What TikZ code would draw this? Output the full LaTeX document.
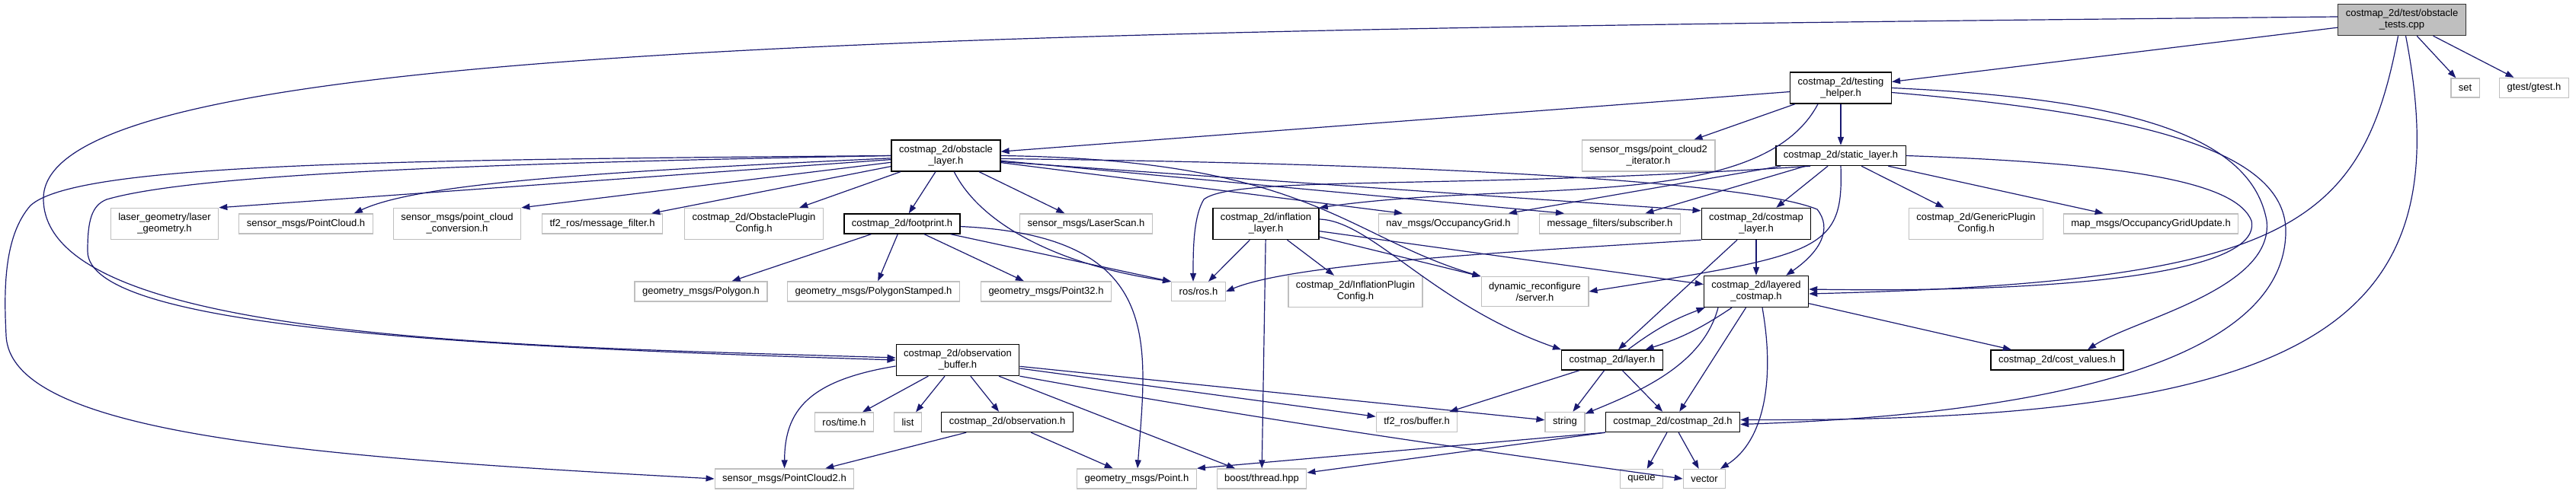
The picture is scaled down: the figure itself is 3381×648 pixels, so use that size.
\documentclass[tikz,border=0pt]{standalone}
\usepackage{fontspec}
\setmainfont{Liberation Sans}
\usetikzlibrary{arrows.meta}
\definecolor{navyedge}{HTML}{191970}
\definecolor{extgray}{HTML}{BFBFBF}

\begin{document}
\begin{tikzpicture}[x=1pt, y=-1pt,
 incl/.style={rectangle, fill=white, line width=1.3pt, align=center,
 inner xsep=10pt, inner ysep=7pt, minimum height=25pt,
 font=\fontsize{13}{15}\selectfont},
 hdr/.style={incl, draw=black},
 ext/.style={incl, draw=extgray},
 top/.style={incl, draw=black!80, fill=extgray},
 a/.style={-{Triangle[length=11pt,width=8pt]}, draw=navyedge, line width=1.2pt},
]
 \useasboundingbox (0,0) rectangle (3381,648);

 \node[top] (root) at (3152.5,26) {costmap\_2d/test/obstacle\\\_tests.cpp};

 \node[hdr] (th) at (2416,115.5) {costmap\_2d/testing\\\_helper.h};
 \node[ext] (setn) at (3235.5,115.5) {set};
 \node[ext] (gtest) at (3326,115.5) {gtest/gtest.h};

 \node[hdr] (ol) at (1241.5,204.5) {costmap\_2d/obstacle\\\_layer.h};
 \node[ext] (pci) at (2163.5,204.5) {sensor\_msgs/point\_cloud2\\\_iterator.h};
 \node[hdr] (sl) at (2416,204.5) {costmap\_2d/static\_layer.h};

 \node[ext] (lg) at (216,294) {laser\_geometry/laser\\\_geometry.h};
 \node[ext] (pcl) at (401.5,294) {sensor\_msgs/PointCloud.h};
 \node[ext] (pcc) at (600,294) {sensor\_msgs/point\_cloud\\\_conversion.h};
 \node[ext] (mf) at (790.5,294) {tf2\_ros/message\_filter.h};
 \node[ext] (opc) at (989.5,294) {costmap\_2d/ObstaclePlugin\\Config.h};
 \node[hdr] (fp) at (1184,294) {costmap\_2d/footprint.h};
 \node[ext] (ls) at (1425.5,294) {sensor\_msgs/LaserScan.h};
 \node[hdr] (il) at (1661.5,294) {costmap\_2d/inflation\\\_layer.h};
 \node[ext] (og) at (1901,294) {nav\_msgs/OccupancyGrid.h};
 \node[ext] (sub) at (2113,294) {message\_filters/subscriber.h};
 \node[hdr] (cl) at (2305,294) {costmap\_2d/costmap\\\_layer.h};
 \node[ext] (gpc) at (2593.5,294) {costmap\_2d/GenericPlugin\\Config.h};
 \node[ext] (ogu) at (2823,294) {map\_msgs/OccupancyGridUpdate.h};

 \node[ext] (poly) at (920,383) {geometry\_msgs/Polygon.h};
 \node[ext] (polys) at (1146.5,383) {geometry\_msgs/PolygonStamped.h};
 \node[ext] (p32) at (1373,383) {geometry\_msgs/Point32.h};
 \node[ext] (ros) at (1573,383) {ros/ros.h};
 \node[ext] (ipc) at (1779,383) {costmap\_2d/InflationPlugin\\Config.h};
 \node[ext] (dr) at (2014.5,383) {dynamic\_reconfigure\\/server.h};
 \node[hdr] (lc) at (2305,383) {costmap\_2d/layered\\\_costmap.h};

 \node[hdr] (ob) at (1257,473) {costmap\_2d/observation\\\_buffer.h};
 \node[hdr] (ly) at (2116,473) {costmap\_2d/layer.h};
 \node[hdr] (cv) at (2700,473) {costmap\_2d/cost\_values.h};

 \node[ext] (rt) at (1108,554.5) {ros/time.h};
 \node[ext] (lst) at (1191.5,554.5) {list};
 \node[hdr] (obs) at (1322,554.5) {costmap\_2d/observation.h};
 \node[ext] (tfb) at (1859.5,554.5) {tf2\_ros/buffer.h};
 \node[ext] (str) at (2054,554.5) {string};
 \node[hdr] (cm) at (2195.5,554.5) {costmap\_2d/costmap\_2d.h};

 \node[ext] (pc2) at (1029.5,629) {sensor\_msgs/PointCloud2.h};
 \node[ext] (pt) at (1492,629) {geometry\_msgs/Point.h};
 \node[ext] (bt) at (1656,629) {boost/thread.hpp};
 \node[ext] (que) at (2154.5,629) {queue};
 \node[ext] (vec) at (2237,629) {vector};

 % obstacle_tests.cpp
 \draw[a] (root) -- (th);
 \draw[a] (root) -- (setn);
 \draw[a] (root) -- (gtest);
 \draw[a] ([xshift=-5pt]root.south) .. controls (3100,300) and (3000,370) .. ([yshift=-3pt]lc.east);
 \draw[a] ([xshift=5pt]root.south) .. controls (3230,420) and (3050,555) .. ([yshift=3pt]cm.east);
 \draw[a] ([yshift=4pt]root.west) .. controls (1200,40) and (60,60) .. (57,260)
   .. controls (55,450) and (700,455) .. ([yshift=3pt]ob.west);

 % testing_helper.h
 \draw[a] (th) -- (ol);
 \draw[a] (th) -- (pci);
 \draw[a] (th) -- (sl);
 \draw[a] ([xshift=-30pt]th.south) .. controls (2310,280) and (2000,235) .. (il.north east);
 \draw[a] (th.east) .. controls (2800,130) and (2955,180) .. (2975,290)
   .. controls (2985,380) and (2800,420) .. ([xshift=40pt]cv.north);
 \draw[a] ([yshift=-6pt]th.east) .. controls (2820,150) and (2995,200) .. (3000,300)
   .. controls (3005,520) and (2500,550) .. ([yshift=-3pt]cm.east);

 % static_layer.h
 \draw[a] (sl) -- (cl);
 \draw[a] (sl) -- (gpc);
 \draw[a] (sl) -- (ogu);
 \draw[a] (sl) -- (og);
 \draw[a] (sl) -- (sub);
 \draw[a] ([xshift=-40pt]sl.south) .. controls (1900,250) and (1620,230) .. (1580,262)
   .. controls (1566,285) and (1566,330) .. ([xshift=-7pt]ros.north);
 \draw[a] (sl.south) .. controls (2420,330) and (2390,335) .. (dr.east);
 \draw[a] (sl.east) .. controls (2800,215) and (2935,240) .. (2955,290)
   .. controls (2970,360) and (2700,385) .. ([yshift=3pt]lc.east);

 % obstacle_layer.h
 \draw[a] (ol) -- (lg.north east);
 \draw[a] (ol) .. controls (800,225) and (550,240) .. ([xshift=-25pt]pcl.north east);
 \draw[a] (ol) -- (pcc.north east);
 \draw[a] (ol) -- ([xshift=-15pt]mf.north east);
 \draw[a] (ol) -- (opc);
 \draw[a] (ol) -- (fp);
 \draw[a] (ol) -- (ls);
 \draw[a] (ol) .. controls (1290,300) and (1400,350) .. (ros.north west);
 \draw[a] (ol) -- ([xshift=-60pt]og.north);
 \draw[a] (ol) -- ([xshift=-60pt]sub.north);
 \draw[a] ([yshift=-8pt]ol.east) -- ([yshift=-4pt]cl.north west);
 \draw[a] (ol.east) .. controls (1720,210) and (1765,310) .. (dr.north west);
 \draw[a] ([yshift=-4pt]ol.east) .. controls (1900,215) and (2300,240) .. (2385,275)
   .. controls (2405,300) and (2390,330) .. ([xshift=-30pt]lc.north east);
 \draw[a] (ol.west) .. controls (600,215) and (250,230) .. (140,262)
   .. controls (120,270) and (115,290) .. (115,330)
   .. controls (115,430) and (600,455) .. (ob.west);
 \draw[a] (ol.west) .. controls (500,210) and (100,215) .. (40,270)
   .. controls (5,310) and (5,380) .. (8,440)
   .. controls (12,570) and (400,600) .. (pc2.west);

 % footprint.h
 \draw[a] (fp) -- (poly);
 \draw[a] (fp) -- (polys);
 \draw[a] (fp) -- (p32);
 \draw[a] (fp) -- (ros.north west);
 \draw[a] (fp) .. controls (1530,310) and (1505,450) .. (pt);

 % inflation_layer.h
 \draw[a] (il) -- (ipc);
 \draw[a] (il) -- (ros);
 \draw[a] (il) -- (bt);
 \draw[a] (il) -- (lc);
 \draw[a] (il) -- (dr.north west);
 \draw[a] ([yshift=6pt]il.east) .. controls (1800,290) and (1880,400) .. (ly.north west);

 % costmap_layer.h
 \draw[a] (cl.south west) .. controls (2000,330) and (1700,345) .. (ros.east);
 \draw[a] ([xshift=-25pt]cl.south) -- ([xshift=8pt]ly.north);
 \draw[a] (cl) -- (lc);

 % layered_costmap.h
 \draw[a] (lc) to[bend left=8] (ly);
 \draw[a] (ly) to[bend left=8] (lc);
 \draw[a] (lc) -- (cv);
 \draw[a] (lc) -- (cm);
 \draw[a] ([xshift=-50pt]lc.south) .. controls (2235,480) and (2150,515) .. (str);
 \draw[a] ([xshift=8pt]lc.south) .. controls (2330,500) and (2315,580) .. (vec);

 % layer.h
 \draw[a] (ly) -- (tfb);
 \draw[a] (ly) -- (str);
 \draw[a] (ly) -- (cm);

 % costmap_2d.h
 \draw[a] (cm) -- (que);
 \draw[a] (cm) -- (vec);
 \draw[a] (cm.south west) -- (pt.north east);
 \draw[a] (cm.south west) -- (bt);

 % observation_buffer.h
 \draw[a] ([yshift=-8pt]ob.west) .. controls (1060,500) and (1030,540) .. (pc2);
 \draw[a] (ob) -- (rt);
 \draw[a] (ob) -- (lst);
 \draw[a] (ob) -- (obs);
 \draw[a] (ob) -- (bt);
 \draw[a] (ob) -- (tfb);
 \draw[a] (ob) -- (str);
 \draw[a] (ob.south east) .. controls (1700,560) and (2000,600) .. (vec.west);

 % observation.h
 \draw[a] (obs) -- (pc2);
 \draw[a] (obs) -- (pt);
\end{tikzpicture}
\end{document}
